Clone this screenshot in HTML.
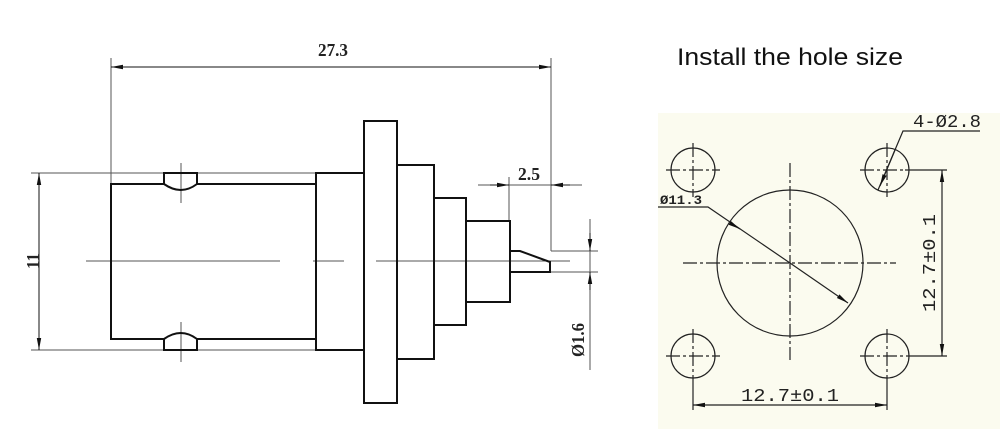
<!DOCTYPE html>
<html><head><meta charset="utf-8"><style>
html,body{margin:0;padding:0;background:#fff;width:1000px;height:429px;overflow:hidden}
svg{display:block}
</style></head><body>
<svg width="1000" height="429" viewBox="0 0 1000 429" xmlns="http://www.w3.org/2000/svg">
<defs>
<marker id="a" viewBox="0 0 12 6" refX="12" refY="3" markerWidth="12" markerHeight="6" orient="auto" markerUnits="userSpaceOnUse"><path d="M0,0.8 L12,3 L0,5.2 Z" fill="#111"/></marker>
</defs>
<rect x="658" y="113" width="342" height="316" fill="#fbfbef"/>
<text x="677" y="65" font-family="Liberation Sans, sans-serif" font-size="24" fill="#111" textLength="226" lengthAdjust="spacingAndGlyphs">Install the hole size</text>

<g stroke="#555" stroke-width="1" fill="none">
<line x1="111" y1="58" x2="111" y2="184"/>
<line x1="551" y1="58" x2="551" y2="251"/>
<line x1="31" y1="173" x2="318" y2="173"/>
<line x1="31" y1="350" x2="318" y2="350"/>
<line x1="86" y1="261" x2="280" y2="261"/>
<line x1="313" y1="261" x2="344" y2="261"/>
<line x1="376" y1="261" x2="570" y2="261"/>
<line x1="181" y1="163" x2="181" y2="203"/>
<line x1="181" y1="322" x2="181" y2="362"/>
<line x1="509" y1="177" x2="509" y2="221"/>
<line x1="478" y1="185" x2="582" y2="185"/>
<line x1="551" y1="251" x2="598" y2="251"/>
<line x1="551" y1="272" x2="598" y2="272"/>
<line x1="590" y1="219" x2="590" y2="370"/>
</g>
<g stroke="#111" stroke-width="1" fill="none">
<line x1="113" y1="67" x2="551" y2="67" marker-end="url(#a)"/>
<line x1="549" y1="67" x2="111" y2="67" marker-end="url(#a)"/>
<line x1="39" y1="261" x2="39" y2="173" marker-end="url(#a)"/>
<line x1="39" y1="261" x2="39" y2="350" marker-end="url(#a)"/>
<line x1="490" y1="185" x2="509" y2="185" marker-end="url(#a)"/>
<line x1="570" y1="185" x2="551" y2="185" marker-end="url(#a)"/>
<line x1="590" y1="233" x2="590" y2="251" marker-end="url(#a)"/>
<line x1="590" y1="290" x2="590" y2="272" marker-end="url(#a)"/>
</g>
<g stroke="#111" stroke-width="2" fill="none">
<path d="M164,184 L111,184 L111,339 L164,339"/>
<path d="M197,184 L316,184 M197,339 L316,339"/>
<path d="M164,173 L197,173 L197,184 Q181,196 164,184 Z"/>
<path d="M164,350 L197,350 L197,339 Q181,327 164,339 Z"/>
<rect x="316" y="173" width="48" height="177"/>
<rect x="364" y="121" width="33" height="282"/>
<rect x="397" y="165" width="37" height="194"/>
<rect x="434" y="198" width="32" height="127"/>
<rect x="466" y="221" width="44" height="81"/>
<path d="M510,251 L520,251 L550,262 L550,272 L510,272"/>
</g>
<g font-family="Liberation Serif, serif" font-weight="bold" font-size="18" fill="#222">
<text x="333" y="56" text-anchor="middle" textLength="30" lengthAdjust="spacingAndGlyphs">27.3</text>
<text x="529" y="180" text-anchor="middle" textLength="22" lengthAdjust="spacingAndGlyphs">2.5</text>
<text transform="translate(39,261) rotate(-90)" text-anchor="middle" textLength="16" lengthAdjust="spacingAndGlyphs">11</text>
<text transform="translate(584,340) rotate(-90)" text-anchor="middle" textLength="34" lengthAdjust="spacingAndGlyphs">Ø1.6</text>
</g>

<g stroke="#222" stroke-width="1.2" fill="none">
<circle cx="693" cy="170" r="22"/>
<circle cx="887" cy="170" r="22"/>
<circle cx="693" cy="356" r="22"/>
<circle cx="887" cy="356" r="22"/>
<circle cx="790" cy="263" r="73"/>
</g>
<g stroke="#222" stroke-width="1.2" stroke-dasharray="14,3,3,3" fill="none">
<line x1="683" y1="263" x2="896" y2="263"/>
<line x1="790" y1="163" x2="790" y2="360"/>
<line x1="666" y1="170" x2="720" y2="170"/><line x1="693" y1="143" x2="693" y2="197"/>
<line x1="860" y1="170" x2="905" y2="170"/><line x1="887" y1="143" x2="887" y2="197"/>
<line x1="666" y1="356" x2="720" y2="356"/><line x1="693" y1="329" x2="693" y2="383"/>
<line x1="860" y1="356" x2="914" y2="356"/><line x1="887" y1="329" x2="887" y2="383"/>
</g>
<g stroke="#222" stroke-width="1.2" fill="none">
<line x1="905" y1="170" x2="947" y2="170"/>
<line x1="914" y1="356" x2="947" y2="356"/>
<line x1="693" y1="383" x2="693" y2="410"/>
<line x1="887" y1="383" x2="887" y2="410"/>
<line x1="942" y1="263" x2="942" y2="170" marker-end="url(#a)"/>
<line x1="942" y1="263" x2="942" y2="356" marker-end="url(#a)"/>
<line x1="790" y1="405" x2="693" y2="405" marker-end="url(#a)"/>
<line x1="790" y1="405" x2="887" y2="405" marker-end="url(#a)"/>
<path d="M980,131 L903,131 L878,190"/>
<line x1="895" y1="150" x2="880" y2="186" marker-end="url(#a)"/>
<path d="M658,207 L708,207 L790,263"/>
<line x1="790" y1="263" x2="848" y2="303" marker-end="url(#a)"/>
<line x1="735" y1="226" x2="740" y2="229" marker-end="url(#a)"/>
</g>
<g font-family="Liberation Mono, monospace" font-size="18" fill="#222">
<text x="913" y="127" textLength="68" lengthAdjust="spacingAndGlyphs">4-Ø2.8</text>
<text x="660" y="204" font-size="13" font-weight="bold" textLength="42" lengthAdjust="spacingAndGlyphs">Ø11.3</text>
<text x="790" y="401" text-anchor="middle" textLength="98" lengthAdjust="spacingAndGlyphs">12.7±0.1</text>
<text transform="translate(935,263) rotate(-90)" text-anchor="middle" textLength="98" lengthAdjust="spacingAndGlyphs">12.7±0.1</text>
</g>
</svg>
</body></html>
